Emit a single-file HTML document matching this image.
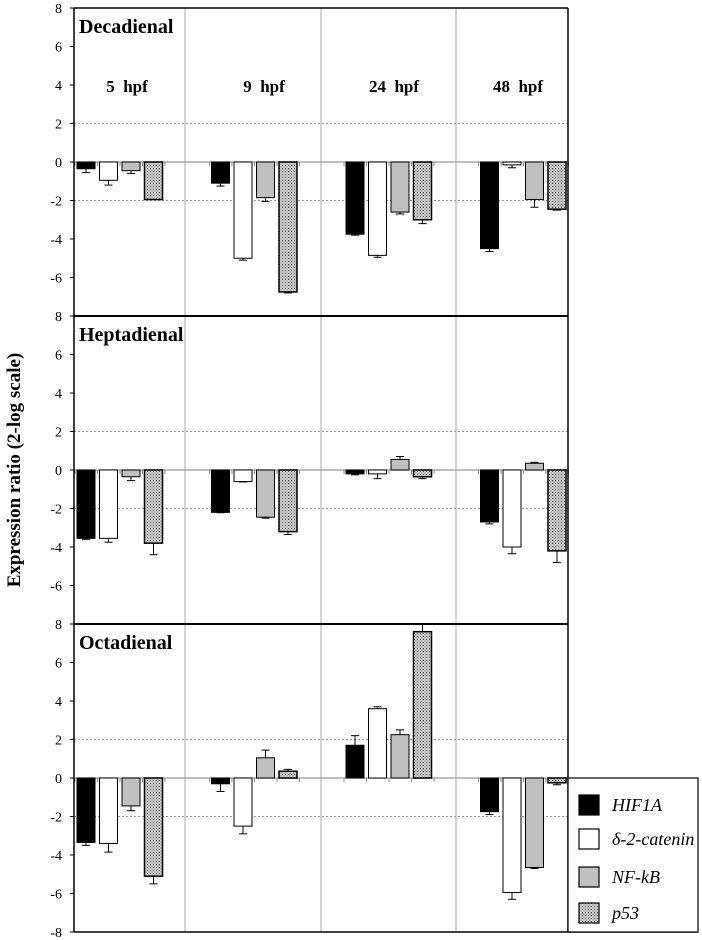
<!DOCTYPE html>
<html><head><meta charset="utf-8"><style>
html,body{margin:0;padding:0;background:#fff;}
svg{display:block;font-family:"Liberation Serif",serif;}
</style></head><body>
<svg id="chart" width="702" height="940" viewBox="0 0 702 940" xmlns="http://www.w3.org/2000/svg">
<defs>
<pattern id="dots" width="3" height="3" patternUnits="userSpaceOnUse">
<rect width="3" height="3" fill="#d0d0d0"/><rect width="1" height="1" fill="#555"/><rect x="1.5" y="1.5" width="1" height="1" fill="#777"/>
</pattern>
</defs>
<g id="plot"></g>
<text transform="translate(20,470) rotate(-90)" text-anchor="middle" font-size="19" font-weight="bold">Expression ratio (2-log scale)</text>
</svg>
<script>
const panels = ["Decadienal","Heptadienal","Octadienal"];
const timepoints = ["5  hpf","9  hpf","24  hpf","48  hpf"];
const genes = ["HIF1A","δ-2-catenin","NF-kB","p53"];
const yTicks = [8,6,4,2,0,-2,-4,-6,-8];
// values[panel][time][gene]
const decaValues = [[-0.35,-0.95,-0.45,-1.95],[-1.1,-5.0,-1.85,-6.75],[-3.75,-4.85,-2.6,-3.0],[-4.5,-0.15,-1.95,-2.45]];
const decaErrors = [[0.2,0.25,0.15,0],[0.15,0.1,0.2,0.05],[0.05,0.1,0.1,0.2],[0.15,0.15,0.4,0.05]];
const heptaValues = [[-3.55,-3.55,-0.35,-3.8],[-2.2,-0.6,-2.45,-3.2],[-0.2,-0.2,0.55,-0.35],[-2.7,-4.0,0.35,-4.2]];
const heptaErrors = [[0.05,0.2,0.2,0.6],[0.02,0.02,0.05,0.15],[0.05,0.25,0.15,0.1],[0.1,0.35,0.05,0.6]];
const octaValues = [[-3.35,-3.4,-1.45,-5.1],[-0.3,-2.5,1.05,0.35],[1.7,3.6,2.25,7.6],[-1.75,-5.95,-4.65,-0.25]];
const octaErrors = [[0.15,0.45,0.25,0.4],[0.4,0.4,0.4,0.1],[0.5,0.1,0.25,0.4],[0.15,0.35,0.05,0.1]];
const allValues = [decaValues, heptaValues, octaValues];
const allErrors = [decaErrors, heptaErrors, octaErrors];

const NS = "http://www.w3.org/2000/svg";
const g = document.getElementById("plot");
const X0 = 74, X1 = 568, PANEL_H = 308, TOP = 8, UNIT = PANEL_H/16;
const GROUP_PITCH = 134.5, BAR_W = 18, BAR_PITCH = 22.5;
const fills = ["#000","#fff","#c0c0c0","url(#dots)"];
const dividers = [185, 321, 456];
function yScale(p, v){ return TOP + p*PANEL_H + (8 - v)*UNIT; }
function xBar(t, k){ return 77 + t*GROUP_PITCH + k*BAR_PITCH; }
function el(tag, attrs, parent){ const e=document.createElementNS(NS,tag); for(const k in attrs) e.setAttribute(k,attrs[k]); (parent||g).appendChild(e); return e; }

panels.forEach((name,p)=>{
  const pg = el("g",{});
  
  
  dividers.forEach(x=>{ const l=el("line",{x1:x,x2:x,y1:yScale(p,8),y2:yScale(p,-8),stroke:"#aaa","stroke-width":1},pg);
      });
  [2,-2].forEach(v=>{ const l=el("line",{x1:X0,x2:X1,y1:yScale(p,v),y2:yScale(p,v),stroke:"#777","stroke-width":0.8,"stroke-dasharray":"2,2"},pg);
      });
  const z=el("line",{x1:X0,x2:X1,y1:yScale(p,0),y2:yScale(p,0),stroke:"#999","stroke-width":1.2},pg);
   
  for(let t=0;t<4;t++) for(let k=0;k<=4;k++){
    const x = 75 + t*GROUP_PITCH + k*BAR_PITCH;
    const tk=el("line",{x1:x,x2:x,y1:yScale(p,0),y2:yScale(p,0)+4,stroke:"#888","stroke-width":1},pg);
     
  }
  yTicks.forEach(v=>{
    if(p<2 && v===-8) return;
    const tl=el("line",{x1:X0-4,x2:X0,y1:yScale(p,v),y2:yScale(p,v),stroke:"#000"},pg);
     
    const tx=el("text",{x:62,y:yScale(p,v)+5,"text-anchor":"end","font-size":"14"},pg);
    tx.textContent=v;
     
  });
  const vals = allValues[p], errs = allErrors[p];
  for(let t=0;t<4;t++) for(let k=0;k<4;k++){
    const v = vals[t][k], e = errs[t][k];
    const x = xBar(t,k);
    const y0 = yScale(p,0), y1 = yScale(p,v);
    const dir = v>=0?1:-1;
    const ye = yScale(p, v + dir*e);
    const cx = x + BAR_W/2;
    const eb=el("line",{x1:cx,x2:cx,y1:y1,y2:ye,stroke:"#000","stroke-width":1},pg);
     
    const ec=el("line",{x1:cx-4,x2:cx+4,y1:ye,y2:ye,stroke:"#000","stroke-width":1},pg);
     
    const r=el("rect",{x:x,y:Math.min(y0,y1),width:BAR_W,height:Math.abs(y1-y0),fill:fills[k],stroke:"#000","stroke-width":k===3?1.5:1},pg);
     
  }
  const ti=el("text",{x:79,y:yScale(p,8)+25,"font-size":"20","font-weight":"bold"},pg);
  ti.textContent=name;
   
  const tb=el("line",{x1:X0,x2:X1,y1:yScale(p,8),y2:yScale(p,8),stroke:"#000","stroke-width":p===0?1.5:2},pg);
   
});
const timeCenters = [127,264,394,518];
timepoints.forEach((tp,i)=>{
  const t=el("text",{x:timeCenters[i],y:92,"text-anchor":"middle","font-size":"17","font-weight":"bold"});
  t.textContent=tp.replace("  ","\u00a0\u00a0");
   
});
const ya=el("line",{x1:X0,x2:X0,y1:TOP,y2:TOP+3*PANEL_H,stroke:"#000","stroke-width":1.5});
 
const rb=el("line",{x1:X1,x2:X1,y1:TOP,y2:TOP+3*PANEL_H,stroke:"#000","stroke-width":1.5});
 
const bb=el("line",{x1:X0,x2:698,y1:TOP+3*PANEL_H,y2:TOP+3*PANEL_H,stroke:"#000","stroke-width":1.5});
 
const lg=el("g",{});
 
const lb=el("rect",{x:X1,y:yScale(2,0),width:130,height:TOP+3*PANEL_H-yScale(2,0),fill:"#fff",stroke:"#000","stroke-width":1.2},lg);
 
const legY = [795,829,867,903];
genes.forEach((gn,k)=>{
  const s=el("rect",{x:579,y:legY[k],width:20,height:20,fill:fills[k],stroke:"#000","stroke-width":1.2},lg);
   
  const t=el("text",{x:612,y:legY[k]+16,"font-size":"18","font-style":"italic"},lg);
  t.textContent=gn;
   
});
</script>
</body></html>
